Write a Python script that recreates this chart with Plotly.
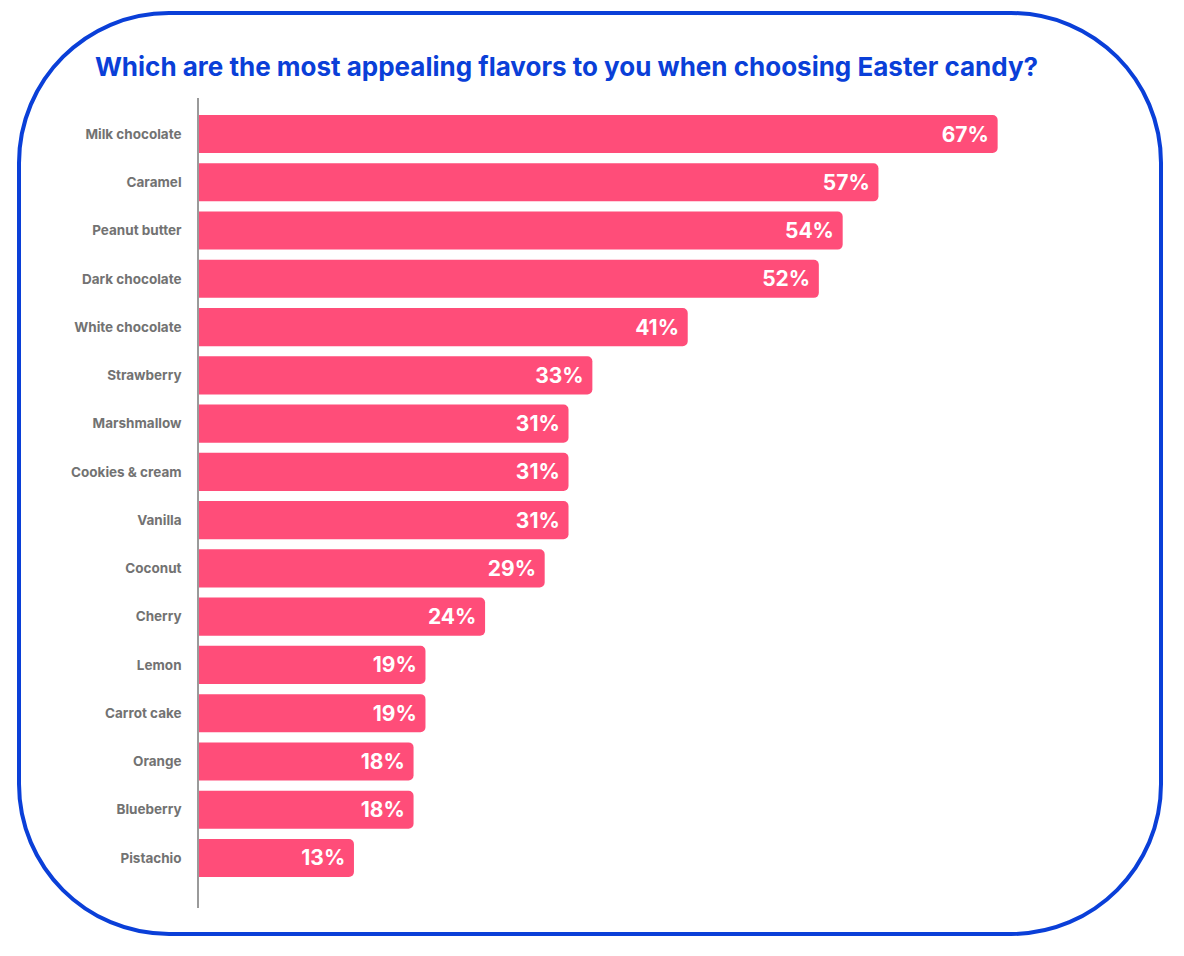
import plotly.graph_objects as go

W, H = 1184, 956

# survey answers, top to bottom
flavors = [
    "Milk chocolate", "Caramel", "Peanut butter", "Dark chocolate",
    "White chocolate", "Strawberry", "Marshmallow", "Cookies & cream",
    "Vanilla", "Coconut", "Cherry", "Lemon", "Carrot cake", "Orange",
    "Blueberry", "Pistachio",
]
shares = [67, 57, 54, 52, 41, 33, 31, 31, 31, 29, 24, 19, 19, 18, 18, 13]

BAR = "#FF4D79"
BLUE = "#0A3FD8"
GREY = "#727272"

# the page body adds an 8px offset, so figure coords = screen coords - 8
m_l, m_r, m_t, m_b = 191, 35, 90, 56
plot_w = W - m_l - m_r
plot_h = H - m_t - m_b


def to_paper(px, py):
    return (px - m_l) / plot_w, 1 - (py - m_t) / plot_h


def rounded_frame(x0, y0, x1, y1, r):
    k = 0.5523 * r
    pts = [
        ("M", [(x0 + r, y0)]),
        ("L", [(x1 - r, y0)]),
        ("C", [(x1 - r + k, y0), (x1, y0 + r - k), (x1, y0 + r)]),
        ("L", [(x1, y1 - r)]),
        ("C", [(x1, y1 - r + k), (x1 - r + k, y1), (x1 - r, y1)]),
        ("L", [(x0 + r, y1)]),
        ("C", [(x0 + r - k, y1), (x0, y1 - r + k), (x0, y1 - r)]),
        ("L", [(x0, y0 + r)]),
        ("C", [(x0, y0 + r - k), (x0 + r - k, y0), (x0 + r, y0)]),
    ]
    out = []
    for cmd, coords in pts:
        s = " ".join(f"{to_paper(a, b)[0]:.5f},{to_paper(a, b)[1]:.5f}" for a, b in coords)
        out.append(f"{cmd} {s}")
    return " ".join(out) + " Z"


fig = go.Figure(
    go.Bar(
        x=shares,
        y=flavors,
        orientation="h",
        marker={"color": BAR, "cornerradius": 5, "line": {"width": 0}},
        width=0.79,
        text=[f"{v}%\u00a0" for v in shares],
        textposition="inside",
        insidetextanchor="end",
        textangle=0,
        textfont={"color": "white", "size": 21, "family": "Inter", "weight": "bold"},
        hoverinfo="skip",
    )
)

fig.add_shape(
    type="path",
    xref="paper",
    yref="paper",
    path=rounded_frame(11, 5, 1153, 926, 150),
    line={"color": BLUE, "width": 4},
    layer="below",
)

fig.update_layout(
    width=W,
    height=H,
    margin={"l": m_l, "r": m_r, "t": m_t, "b": m_b},
    paper_bgcolor="white",
    plot_bgcolor="white",
    showlegend=False,
    title={
        "text": "<b>Which are the most appealing flavors to you when choosing Easter candy?</b>",
        "x": 558.5 / W,
        "xanchor": "center",
        "y": 1 - 59 / H,
        "yanchor": "middle",
        "font": {"family": "Inter", "size": 26, "color": BLUE},
    },
    xaxis={
        "range": [0, plot_w / 11.92],
        "visible": False,
        "fixedrange": True,
    },
    yaxis={
        "categoryorder": "array",
        "categoryarray": flavors,
        "range": [16.036, -0.746],
        "showline": True,
        "linecolor": "#9a9a9a",
        "linewidth": 1.5,
        "showgrid": False,
        "zeroline": False,
        "ticks": "",
        "ticklabelstandoff": 13,
        "tickfont": {"family": "Inter", "size": 13.5, "color": GREY, "weight": "bold"},
        "fixedrange": True,
    },
)

fig.write_html("out.html")
